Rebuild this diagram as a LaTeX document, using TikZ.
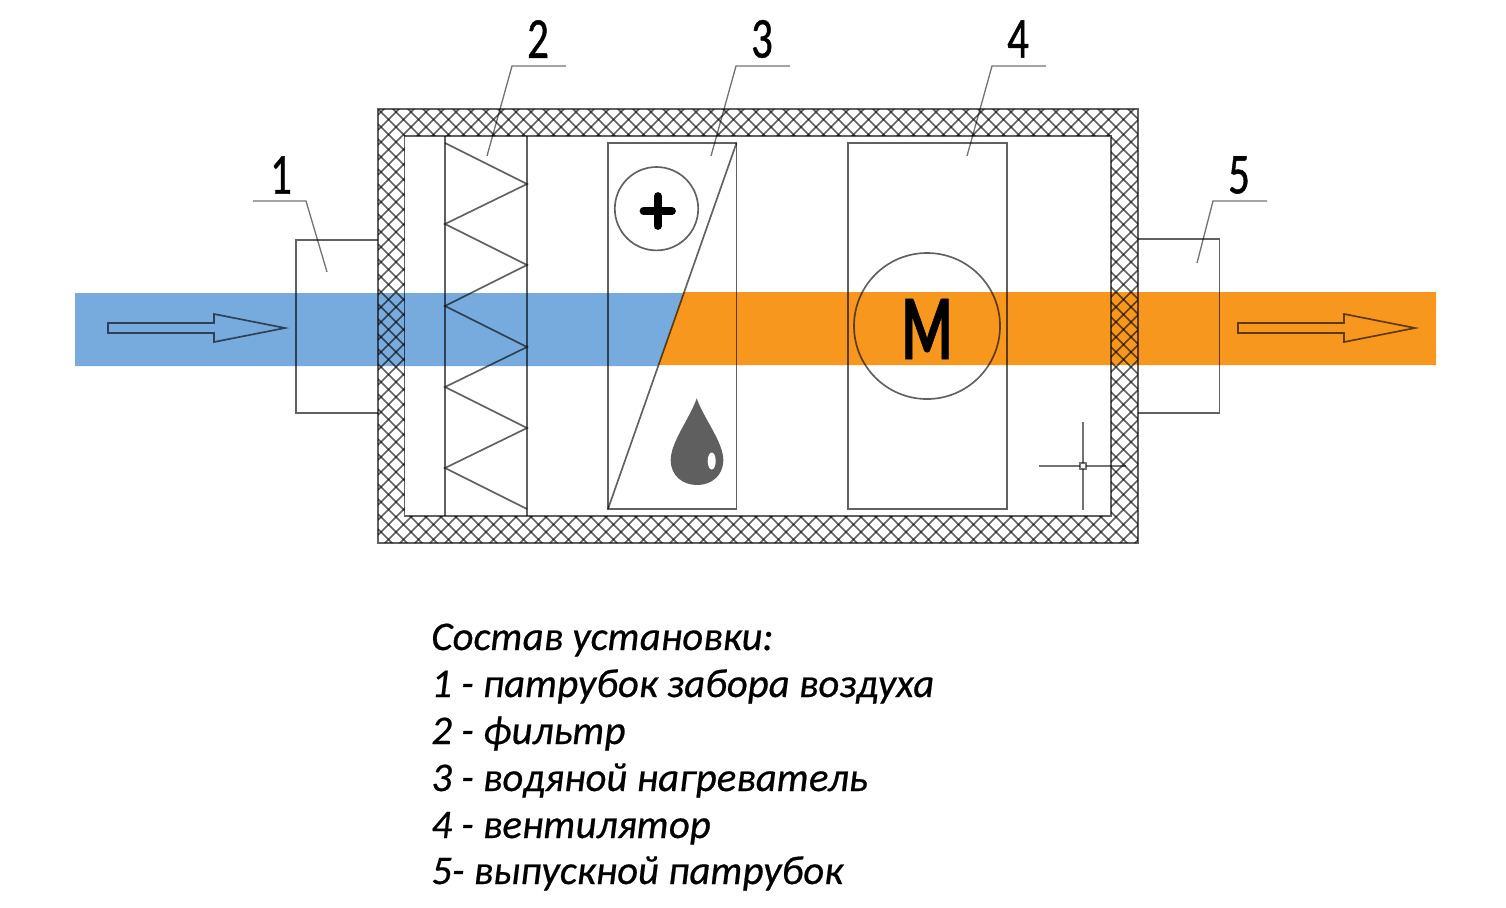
\documentclass[tikz,border=0pt]{standalone}
\usepackage{fontspec}
\setmainfont{Carlito}
\newfontfamily\numfont[FakeStretch=0.74,FakeBold=0.7]{Carlito}
\newfontfamily\motorfont[FakeStretch=0.62,FakeBold=0.5]{Carlito}
\newfontfamily\legendfont[ItalicFeatures={FakeBold=0.5}]{Carlito}
\usepackage{xcolor}
\usepackage{tikz}
\definecolor{airblue}{HTML}{78ABDD}
\definecolor{airorange}{HTML}{F7971E}
\definecolor{dropgray}{HTML}{5F5F5F}

\begin{document}
\begin{tikzpicture}[x=0.02cm, y=-0.02cm,
    part/.style={draw=black, draw opacity=0.62, line width=0.95pt},
    leader/.style={draw=black, draw opacity=0.55, line width=0.75pt},
    num/.style={font=\numfont\fontsize{33}{33}\selectfont, inner sep=0pt},
    legend/.style={anchor=base west, inner sep=0pt, font=\legendfont\itshape\fontsize{23.2}{26}\selectfont}]
    \useasboundingbox (0,0) rectangle (1506,907);

    \fill[airblue] (75,293) -- (683.4,293) -- (657.8,366) -- (75,366) -- cycle;
    \fill[airorange] (683.4,292) -- (1436,292) -- (1436,365) -- (658.2,365) -- cycle;

    \begin{scope}[even odd rule]
        \clip (378,109) rectangle (1138,543) (404.5,136) rectangle (1111,516);
        \foreach \c in {478,493,...,1690} {
            \draw[part, line width=0.85pt] (378,{\c-378}) -- (1138,{\c-1138});
        }
        \foreach \c in {-166,-151,...,1040} {
            \draw[part, line width=0.85pt] (378,{378-\c}) -- (1138,{1138-\c});
        }
    \end{scope}
    \draw[part] (378,109) rectangle (1138,543);
    \draw[part] (404.5,136) rectangle (1111,516);

    \draw[part] (378,240) -- (296,240) -- (296,413) -- (378,413);
    \draw[part] (1138,239) -- (1219.5,239) -- (1219.5,413) -- (1138,413);

    \draw[part] (445,136) -- (445,516);
    \draw[part] (527,136) -- (527,516);
    \draw[part] (445,143) -- (527,184) -- (445,224) -- (527,265) -- (445,306)
        -- (527,347) -- (445,387) -- (527,428) -- (445,468) -- (527,509);

    \draw[part] (608,143) rectangle (736.5,509);
    \draw[part] (608,509) -- (736.5,143);
    \draw[part] (656.5,208.7) circle (41.7);
    \draw[black, line width=4.4pt, line cap=round] (643.5,211) -- (672,211);
    \draw[black, line width=4.4pt, line cap=round] (657.7,196) -- (657.7,226);

    \fill[dropgray] (696.7,398.3) .. controls (690,418) and (670.7,442) .. (670.7,460)
        .. controls (670.7,476) and (683,485) .. (697,485)
        .. controls (711,485) and (723.3,476) .. (723.3,460)
        .. controls (723.3,442) and (703.4,418) .. (696.7,398.3) -- cycle;
    \fill[white] (711.7,461) ellipse (4 and 8.5);

    \draw[part] (848,143) rectangle (1007,509);
    \draw[part] (927,326) circle (73);
    \node[font=\motorfont\bfseries\fontsize{53}{53}\selectfont, inner sep=0pt] (motor) at (927,329) {M};

    \draw[part] (108,323) -- (214,323) -- (214,314) -- (285,328) -- (214,342) -- (214,333) -- (108,333) -- cycle;
    \draw[part] (1238,323) -- (1344,323) -- (1344,314) -- (1415,328) -- (1344,342) -- (1344,333) -- (1238,333) -- cycle;

    \draw[leader] (253,201) -- (306,201) -- (327,272);
    \draw[leader] (566,66) -- (512,66) -- (487,156);
    \draw[leader] (790,66) -- (736,66) -- (711,156);
    \draw[leader] (1046,66) -- (992,66) -- (967,156);
    \draw[leader] (1267,201) -- (1213,201) -- (1197,263);

    \draw[leader] (1083,422) -- (1083,510);
    \draw[leader] (1039,466) -- (1126,466);
    \draw[leader, fill=white] (1080,463) rectangle (1086,469);

    \node[num] (num1) at (281,175) {1};
    \node[num] (num2) at (538,39) {2};
    \node[num] (num3) at (762,39) {3};
    \node[num] (num4) at (1018,39) {4};
    \node[num] (num5) at (1239,175) {5};

    \node[legend] (title) at (431,650) {Состав установки:};
    \node[legend] (item1) at (431,697) {1 - патрубок забора воздуха};
    \node[legend] (item2) at (431,744) {2 - фильтр};
    \node[legend] (item3) at (431,791) {3 - водяной нагреватель};
    \node[legend] (item4) at (431,838) {4 - вентилятор};
    \node[legend] (item5) at (431,884) {5- выпускной патрубок};
\end{tikzpicture}
\end{document}
